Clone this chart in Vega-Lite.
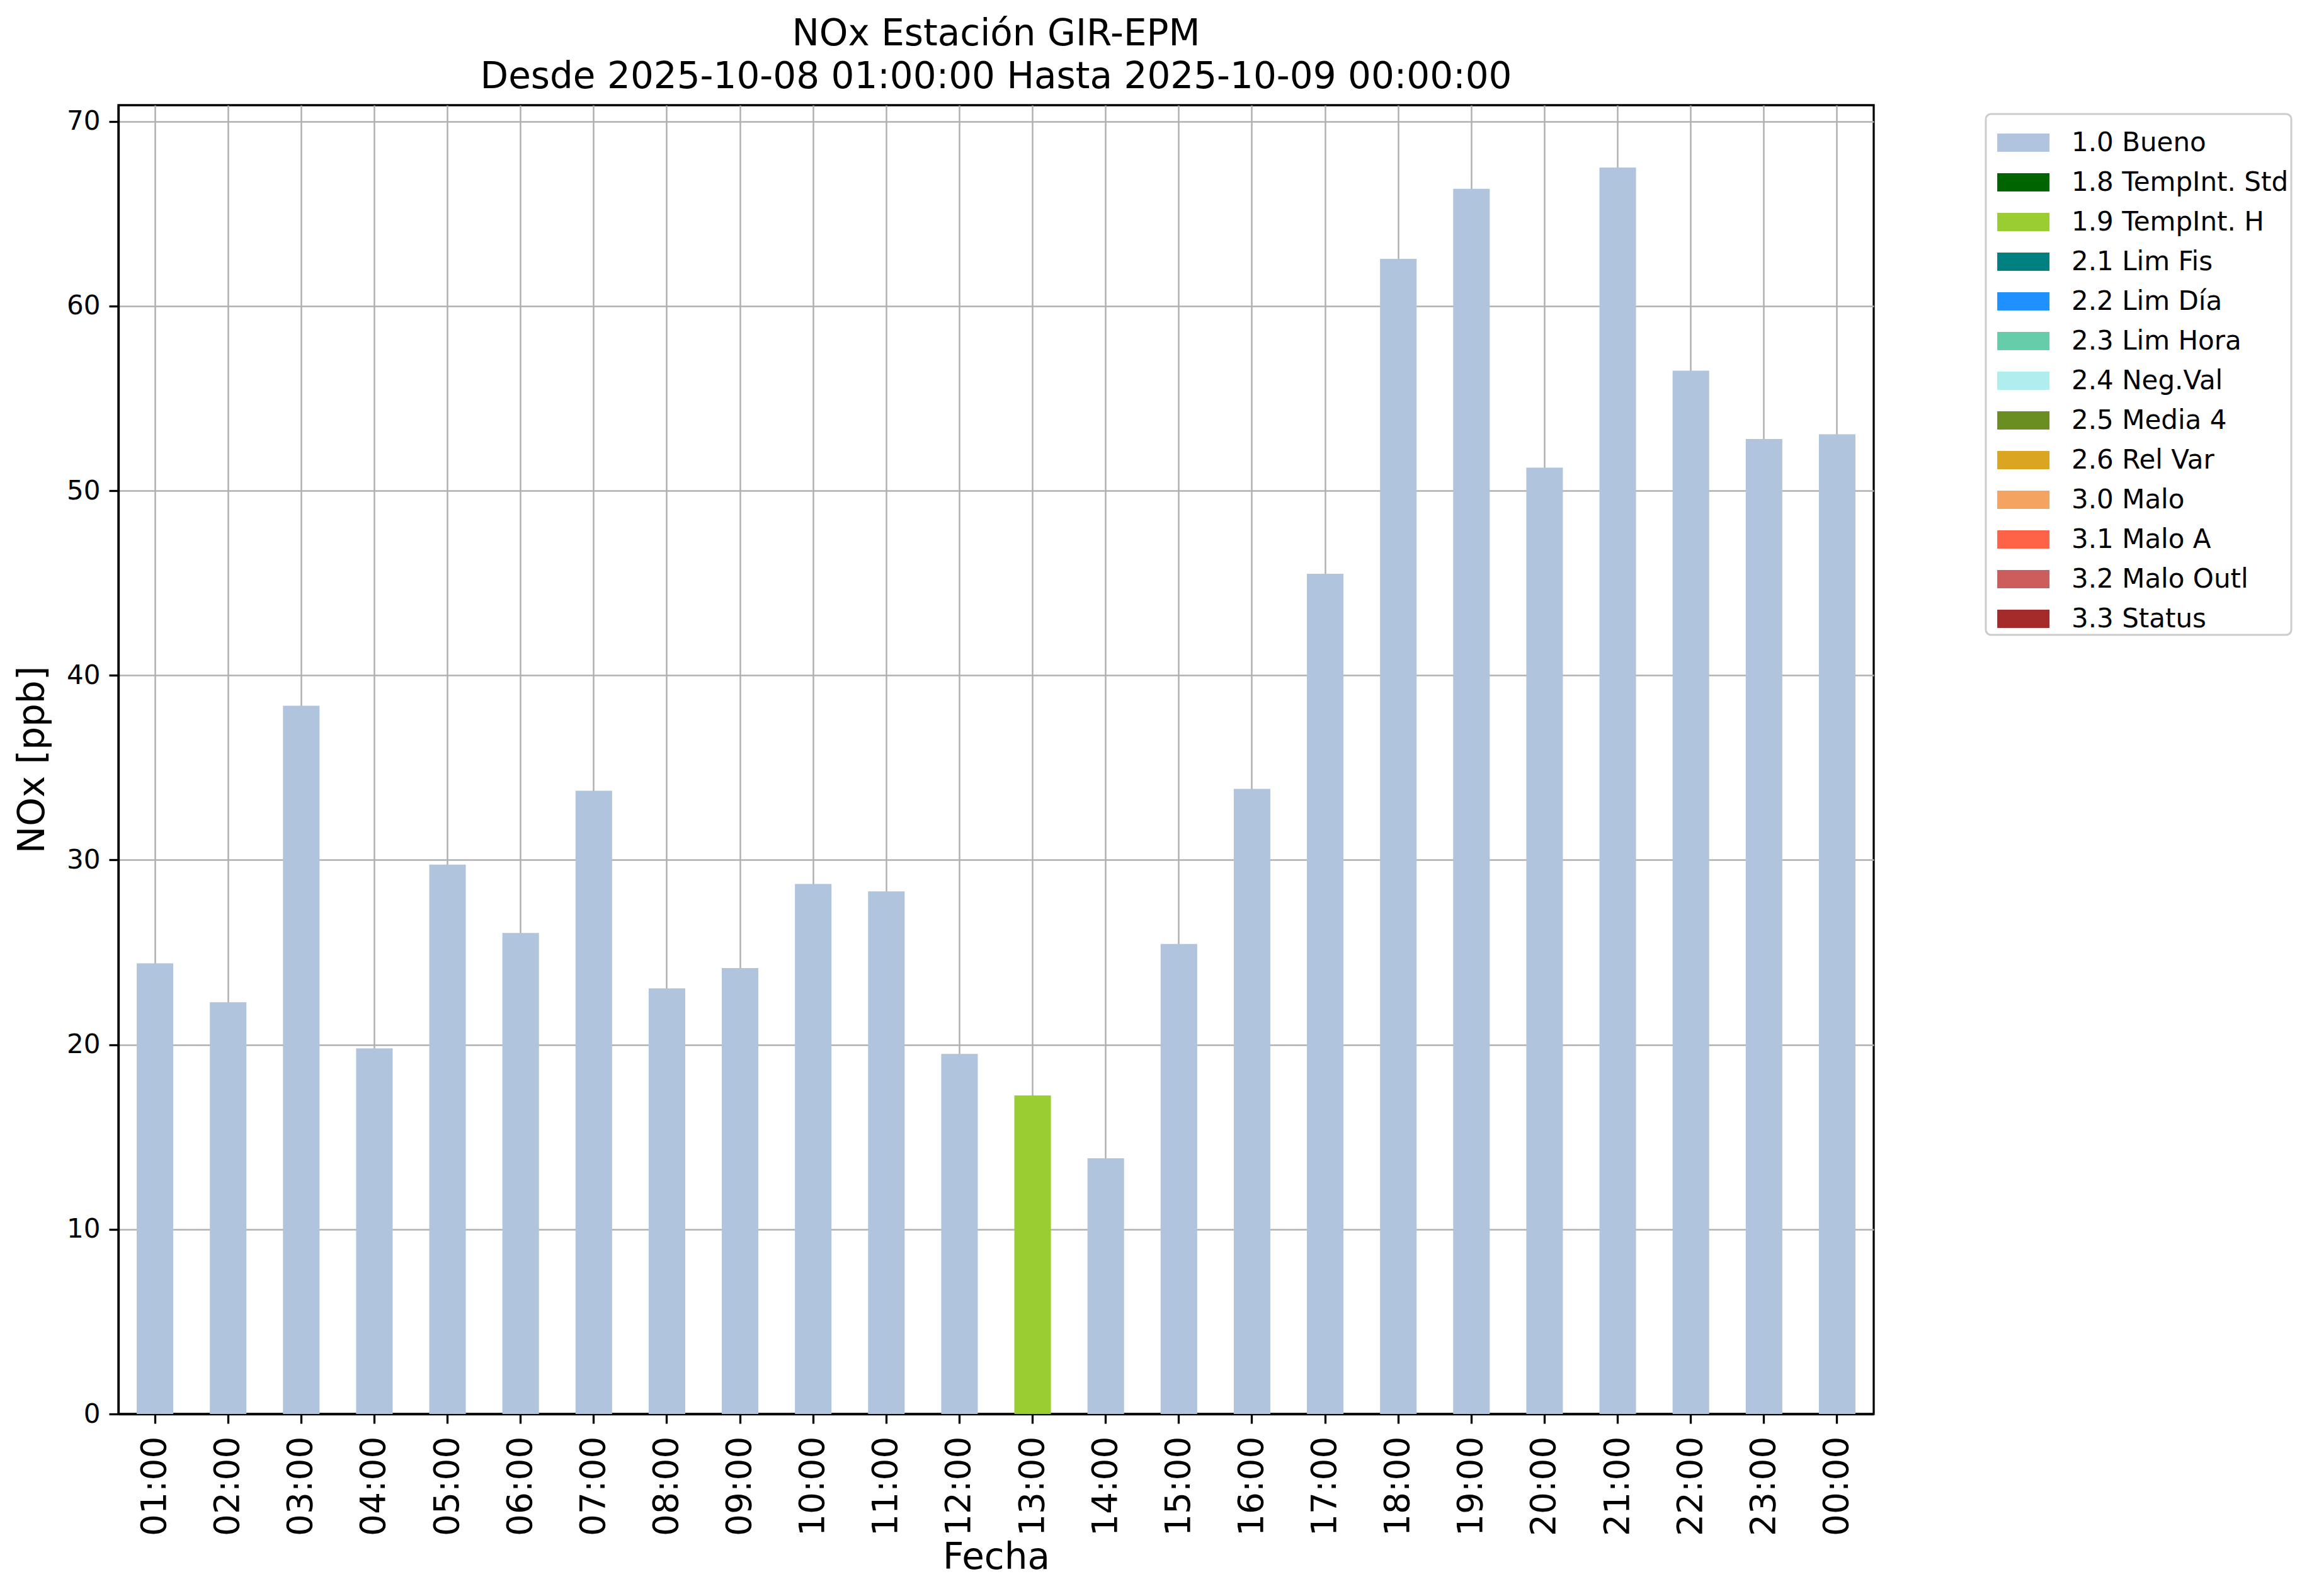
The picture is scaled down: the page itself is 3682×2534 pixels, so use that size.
{
  "$schema": "https://vega.github.io/schema/vega-lite/v6.json",
  "autosize": {"type": "none"},
  "padding": {"left": 188, "top": 167, "right": 707, "bottom": 289},
  "width": 2787,
  "height": 2078,
  "background": "white",
  "title": {
    "text": ["NOx Estación GIR-EPM", "Desde 2025-10-08 01:00:00 Hasta 2025-10-09 00:00:00"],
    "font": "DejaVu Sans",
    "fontSize": 58,
    "fontWeight": "normal",
    "color": "black",
    "anchor": "middle",
    "lineHeight": 68,
    "offset": 15
  },
  "data": {
    "values": [
      {"hora": "01:00", "nox": 24.4, "flag": "1.0 Bueno"},
      {"hora": "02:00", "nox": 22.3, "flag": "1.0 Bueno"},
      {"hora": "03:00", "nox": 38.35, "flag": "1.0 Bueno"},
      {"hora": "04:00", "nox": 19.8, "flag": "1.0 Bueno"},
      {"hora": "05:00", "nox": 29.75, "flag": "1.0 Bueno"},
      {"hora": "06:00", "nox": 26.05, "flag": "1.0 Bueno"},
      {"hora": "07:00", "nox": 33.75, "flag": "1.0 Bueno"},
      {"hora": "08:00", "nox": 23.05, "flag": "1.0 Bueno"},
      {"hora": "09:00", "nox": 24.15, "flag": "1.0 Bueno"},
      {"hora": "10:00", "nox": 28.7, "flag": "1.0 Bueno"},
      {"hora": "11:00", "nox": 28.3, "flag": "1.0 Bueno"},
      {"hora": "12:00", "nox": 19.5, "flag": "1.0 Bueno"},
      {"hora": "13:00", "nox": 17.25, "flag": "1.9 TempInt. H"},
      {"hora": "14:00", "nox": 13.85, "flag": "1.0 Bueno"},
      {"hora": "15:00", "nox": 25.45, "flag": "1.0 Bueno"},
      {"hora": "16:00", "nox": 33.85, "flag": "1.0 Bueno"},
      {"hora": "17:00", "nox": 45.5, "flag": "1.0 Bueno"},
      {"hora": "18:00", "nox": 62.55, "flag": "1.0 Bueno"},
      {"hora": "19:00", "nox": 66.35, "flag": "1.0 Bueno"},
      {"hora": "20:00", "nox": 51.25, "flag": "1.0 Bueno"},
      {"hora": "21:00", "nox": 67.5, "flag": "1.0 Bueno"},
      {"hora": "22:00", "nox": 56.5, "flag": "1.0 Bueno"},
      {"hora": "23:00", "nox": 52.8, "flag": "1.0 Bueno"},
      {"hora": "00:00", "nox": 53.05, "flag": "1.0 Bueno"}
    ]
  },
  "mark": {"type": "bar", "strokeWidth": 0},
  "encoding": {
    "x": {
      "field": "hora",
      "type": "nominal",
      "sort": null,
      "scale": {"paddingInner": 0.5, "paddingOuter": 0.25},
      "axis": {
        "title": "Fecha",
        "titleFontSize": 58,
        "titleFontWeight": "normal",
        "titleBaseline": "middle",
        "titleY": 228,
        "labelAngle": -90,
        "labelFontSize": 55,
        "labelPadding": 20,
        "bandPosition": 0.5
      }
    },
    "y": {
      "field": "nox",
      "type": "quantitative",
      "scale": {"domain": [0, 70.875], "nice": false, "zero": true},
      "axis": {
        "title": "NOx [ppb]",
        "titleFontSize": 58,
        "titleFontWeight": "normal",
        "titleAngle": -90,
        "titleBaseline": "middle",
        "titleAlign": "center",
        "titleX": -136,
        "titleY": 1039,
        "values": [0, 10, 20, 30, 40, 50, 60, 70],
        "labelFontSize": 42,
        "labelPadding": 14
      }
    },
    "color": {
      "field": "flag",
      "type": "nominal",
      "scale": {
        "domain": ["1.0 Bueno", "1.8 TempInt. Std", "1.9 TempInt. H", "2.1 Lim Fis", "2.2 Lim Día", "2.3 Lim Hora", "2.4 Neg.Val", "2.5 Media 4", "2.6 Rel Var", "3.0 Malo", "3.1 Malo A", "3.2 Malo Outl", "3.3 Status"],
        "range": ["#b0c4de", "#006400", "#9acd32", "#008080", "#1e90ff", "#66cdaa", "#afeeee", "#6b8e23", "#daa520", "#f4a460", "#ff6347", "#cd5c5c", "#a52a2a"]
      },
      "legend": {
        "title": null,
        "orient": "none",
        "legendX": 2965,
        "legendY": 14,
        "symbolType": "M-0.66,-0.35L1.34,-0.35L1.34,0.35L-0.66,0.35Z",
        "symbolSize": 6889,
        "symbolStrokeWidth": 0,
        "symbolOpacity": 1,
        "labelFontSize": 42,
        "labelFont": "DejaVu Sans",
        "labelColor": "black",
        "labelOffset": 49,
        "labelLimit": 1000,
        "rowPadding": 0,
        "padding": 4,
        "strokeColor": "#cccccc",
        "cornerRadius": 8,
        "fillColor": "white"
      }
    }
  },
  "config": {
    "font": "DejaVu Sans",
    "view": {"stroke": "black", "strokeWidth": 3.3},
    "legend": {"strokeWidth": 3},
    "axis": {
      "zindex": 1,
      "grid": true,
      "gridColor": "#b0b0b0",
      "gridWidth": 2.5,
      "gridOpacity": 1,
      "domainColor": "black",
      "domainWidth": 3.3,
      "tickColor": "black",
      "tickWidth": 3.3,
      "tickSize": 15,
      "labelColor": "black",
      "titleColor": "black",
      "labelFont": "DejaVu Sans",
      "titleFont": "DejaVu Sans"
    }
  }
}
